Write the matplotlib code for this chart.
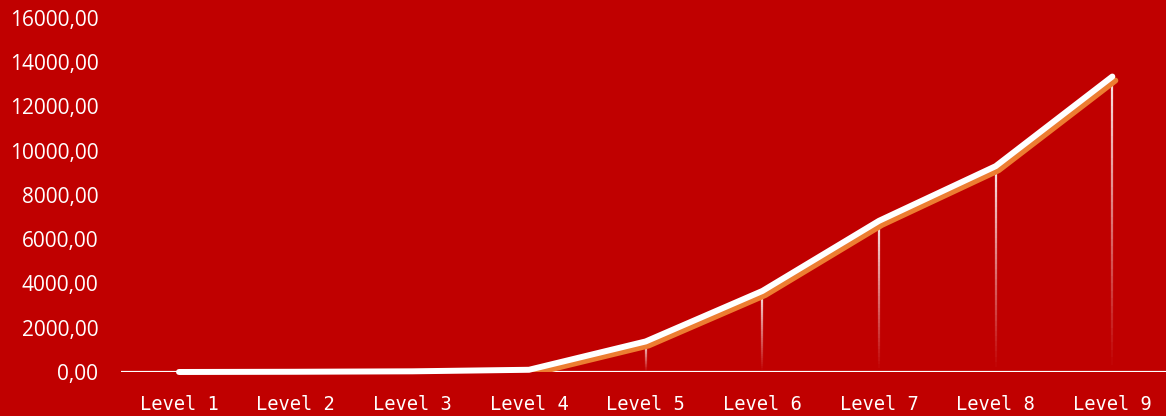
import numpy as np
import matplotlib.pyplot as plt
import matplotlib.transforms as mtransforms
from matplotlib.collections import LineCollection

# data
levels = ["Level 1", "Level 2", "Level 3", "Level 4", "Level 5",
          "Level 6", "Level 7", "Level 8", "Level 9"]
values = [0, 10, 30, 100, 1380, 3660, 6830, 9300, 13350]
yticks = [0, 2000, 4000, 6000, 8000, 10000, 12000, 14000, 16000]

bg = "#C00000"
plt.rcParams['font.family'] = ['Open Sans', 'DejaVu Sans']

fig = plt.figure(figsize=(11.66, 4.16), dpi=100, facecolor=bg)
ax = fig.add_axes([0.1035, 0.1058, 0.9005, 0.8512], facecolor=bg)

x = np.arange(len(levels))

# drop lines with a fade to transparent towards the axis
for xi, yi in zip(x, values):
    n = 40
    ys = np.linspace(0, yi, n + 1)
    segs = [[(xi, ys[k]), (xi, ys[k + 1])] for k in range(n)]
    alphas = np.linspace(0.0, 0.9, n)
    cols = [(1, 1, 1, a) for a in alphas]
    ax.add_collection(LineCollection(segs, colors=cols, linewidths=1.6, zorder=2))

# orange shadow, offset down-right, clipped to the plot area
shift = mtransforms.ScaledTranslation(3 / 100, -4 / 100, fig.dpi_scale_trans)
ax.plot(x, values, color="#ED7D31", lw=4.3, solid_capstyle='round',
        transform=ax.transData + shift, zorder=3)

# main white line
ax.plot(x, values, color="white", lw=4.3, solid_capstyle='round',
        solid_joinstyle='miter', zorder=4, clip_on=False)

ax.axhline(0, color="white", lw=1.6, zorder=1)

ax.set_xlim(-0.5, 8.5)
ax.set_ylim(0, 16000)
ax.set_xticks(x)
ax.set_xticklabels(levels, family='DejaVu Sans Mono')
ax.set_yticks(yticks)
ax.set_yticklabels([f"{v},00" for v in yticks])
ax.tick_params(axis='x', length=0, pad=16.5, labelsize=13.5, labelcolor='white')
ax.tick_params(axis='y', length=0, pad=16, labelsize=15, labelcolor='white')
for s in ax.spines.values():
    s.set_visible(False)

fig.savefig("out.png", dpi=100, facecolor=bg)
